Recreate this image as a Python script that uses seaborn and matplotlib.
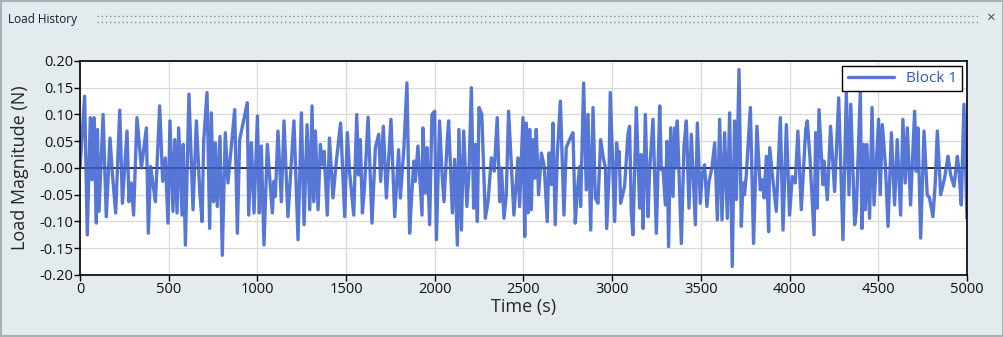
import numpy as np
import pandas as pd
import seaborn as sns
import matplotlib.pyplot as plt
from matplotlib.lines import Line2D
from matplotlib.patches import Rectangle

# load history (time in s, load in N)
time_s = [0, 26, 41, 58, 68, 79, 92, 98, 107, 130, 148, 169, 182, 201, 224, 239, 265, 276, 289, 302,
          321, 346, 374, 385, 398, 425, 449, 466, 481, 496, 507, 524, 534, 547, 556, 575, 582, 594, 614, 637,
          656, 675, 688, 697, 716, 731, 740, 753, 763, 774, 789, 802, 819, 834, 872, 887, 900, 943, 951, 966,
          981, 1000, 1011, 1022, 1037, 1056, 1084, 1093, 1101, 1116, 1135, 1150, 1172, 1206, 1229, 1248, 1263, 1280, 1295, 1308,
          1317, 1327, 1342, 1355, 1365, 1376, 1394, 1406, 1426, 1445, 1469, 1492, 1507, 1520, 1543, 1560, 1570, 1580, 1592, 1603,
          1624, 1646, 1665, 1684, 1695, 1710, 1727, 1740, 1753, 1774, 1796, 1806, 1826, 1843, 1858, 1871, 1882, 1890, 1905, 1928,
          1933, 1947, 1956, 1971, 1984, 1999, 2009, 2027, 2041, 2052, 2071, 2078, 2099, 2112, 2127, 2136, 2150, 2163, 2181, 2193,
          2206, 2219, 2229, 2240, 2249, 2265, 2285, 2300, 2319, 2335, 2352, 2366, 2376, 2390, 2403, 2416, 2446, 2469, 2478, 2497,
          2507, 2516, 2525, 2535, 2544, 2554, 2563, 2572, 2585, 2601, 2617, 2634, 2644, 2657, 2666, 2679, 2691, 2708, 2728, 2741,
          2760, 2779, 2792, 2803, 2817, 2822, 2839, 2854, 2864, 2879, 2892, 2905, 2920, 2935, 2950, 2962, 2969, 2982, 2989, 3014,
          3025, 3033, 3039, 3048, 3070, 3089, 3098, 3108, 3117, 3136, 3155, 3164, 3174, 3187, 3202, 3211, 3230, 3249, 3268, 3277,
          3286, 3300, 3309, 3318, 3330, 3343, 3352, 3358, 3367, 3390, 3405, 3418, 3433, 3446, 3469, 3480, 3497, 3507, 3521, 3534,
          3546, 3562, 3578, 3593, 3606, 3619, 3634, 3649, 3662, 3677, 3690, 3700, 3715, 3728, 3737, 3746, 3756, 3779, 3797, 3816,
          3835, 3846, 3856, 3869, 3882, 3888, 3906, 3925, 3948, 3963, 3982, 4000, 4015, 4032, 4047, 4066, 4091, 4100, 4115, 4138,
          4147, 4156, 4166, 4188, 4194, 4213, 4231, 4254, 4277, 4301, 4320, 4335, 4345, 4367, 4376, 4399, 4408, 4418, 4427, 4436,
          4451, 4465, 4476, 4502, 4511, 4523, 4540, 4555, 4574, 4592, 4607, 4626, 4639, 4652, 4664, 4682, 4705, 4714, 4724, 4739,
          4758, 4776, 4789, 4808, 4821, 4833, 4852, 4874, 4893, 4908, 4927, 4946, 4955, 4968, 4983, 5000]
load_n = [0.0, 0.134, -0.125, 0.094, -0.022, 0.094, -0.103, 0.072, -0.081, 0.100, -0.091, 0.056, -0.009, -0.084, 0.108, -0.066, 0.069, -0.063, -0.028, -0.088,
          0.094, 0.0, 0.075, -0.122, 0.003, -0.063, 0.116, -0.025, 0.019, -0.103, 0.088, -0.081, 0.053, -0.084, 0.075, -0.088, 0.044, -0.144, 0.138, -0.078,
          0.088, -0.044, -0.100, 0.050, 0.141, -0.113, 0.103, -0.063, 0.047, -0.072, 0.059, -0.163, 0.066, -0.028, 0.109, -0.122, 0.053, 0.122, -0.088, 0.047,
          -0.084, 0.097, -0.084, 0.041, -0.144, 0.044, -0.084, -0.025, -0.053, 0.069, -0.063, 0.088, -0.091, 0.088, -0.134, 0.103, -0.106, 0.081, -0.078, 0.116,
          -0.063, 0.069, -0.078, 0.044, 0.006, 0.031, -0.088, 0.056, -0.056, 0.013, 0.084, -0.091, 0.066, -0.009, -0.088, 0.100, -0.013, 0.053, -0.084, -0.040,
          0.095, -0.103, 0.038, 0.063, -0.025, 0.078, -0.056, 0.016, 0.091, -0.091, 0.034, -0.056, 0.038, 0.159, -0.122, -0.044, 0.013, -0.025, 0.041, -0.088,
          0.075, -0.047, 0.038, -0.106, 0.100, 0.106, -0.134, 0.088, -0.013, -0.063, 0.056, 0.088, -0.084, 0.016, -0.144, 0.072, -0.116, 0.069, -0.072, -0.006,
          0.150, -0.075, 0.044, -0.100, 0.113, 0.100, -0.094, -0.063, 0.019, -0.006, 0.094, -0.063, 0.000, -0.094, -0.050, 0.106, -0.088, 0.019, -0.072, 0.094,
          -0.128, 0.084, -0.084, 0.072, -0.078, 0.053, -0.019, 0.072, -0.050, 0.028, 0.003, -0.100, 0.028, -0.031, 0.084, -0.106, 0.028, 0.125, -0.088, 0.038,
          0.053, 0.066, -0.103, -0.044, 0.003, -0.072, 0.159, -0.041, 0.100, -0.116, 0.113, -0.056, -0.066, 0.053, 0.019, 0.000, -0.113, -0.016, 0.141, -0.100,
          0.047, 0.006, 0.031, -0.066, -0.034, 0.063, 0.078, -0.084, -0.125, 0.113, -0.075, 0.025, -0.113, 0.100, -0.091, -0.006, 0.091, -0.122, 0.116, -0.003,
          0.000, -0.069, 0.050, -0.147, 0.075, -0.053, 0.075, 0.000, 0.088, -0.141, 0.041, 0.088, -0.075, 0.063, -0.106, 0.084, -0.066, -0.013, 0.006, -0.072,
          -0.025, 0.000, 0.047, -0.097, 0.091, -0.097, 0.066, -0.094, 0.103, -0.184, 0.088, -0.059, 0.184, -0.109, -0.028, -0.050, -0.013, 0.113, -0.141, 0.078,
          -0.041, -0.022, -0.056, 0.022, -0.119, 0.038, -0.022, -0.081, 0.094, -0.116, 0.081, -0.088, -0.016, -0.028, 0.069, -0.078, 0.072, 0.088, 0.019, -0.125,
          0.066, -0.075, 0.109, -0.031, 0.013, -0.059, 0.078, -0.044, 0.131, -0.134, 0.141, -0.050, 0.119, -0.106, -0.081, 0.144, -0.113, 0.044, -0.078, 0.044,
          -0.094, 0.113, -0.069, 0.091, -0.050, 0.081, 0.006, -0.109, 0.066, -0.069, 0.053, -0.088, 0.091, -0.028, 0.075, -0.069, 0.106, -0.006, 0.075, -0.131,
          0.069, -0.050, -0.056, -0.091, -0.031, 0.069, -0.050, -0.019, 0.022, -0.013, -0.034, 0.022, -0.006, -0.069, 0.119, -0.094]

x_ticks = np.arange(0, 5001, 500)
y_ticks = np.arange(-0.20, 0.201, 0.05)

df = pd.DataFrame({'Time (s)': time_s, 'Load Magnitude (N)': load_n})

sns.set_theme(style='whitegrid')
plt.rcParams['font.family'] = ['Open Sans', 'DejaVu Sans']

bg = '#e3ebef'
line_col = '#3a5fd0'

fig = plt.figure(figsize=(10.04, 3.37), dpi=100)
fig.patch.set_facecolor(bg)
ax = fig.add_axes([0.0797, 0.184, 0.8834, 0.635])
ax.set_facecolor('white')

sns.lineplot(data=df, x='Time (s)', y='Load Magnitude (N)', ax=ax, color=line_col,
             linewidth=2.4, alpha=0.85, label='Block 1', estimator=None, sort=False)
ax.axhline(0, color='black', lw=1.1, zorder=1)

ax.set_xlim(0, 5000)
ax.set_ylim(-0.20, 0.20)
ax.set_xticks(x_ticks)
ax.set_yticks(y_ticks)
ax.set_yticklabels([f'{v:.2f}' for v in y_ticks])
ax.grid(True, color='#d9d9d9', lw=0.9)
for sp in ax.spines.values():
    sp.set_color('black')
    sp.set_linewidth(1.2)
ax.tick_params(axis='both', which='major', labelsize=10.5, length=4, width=1,
               color='black', labelcolor='#111111', pad=1, direction='out')
ax.tick_params(bottom=True, left=True)
ax.set_xlabel('Time (s)', fontsize=13, labelpad=1)
ax.set_ylabel('Load Magnitude (N)', fontsize=13, labelpad=7)

leg = ax.legend(loc='upper right', fontsize=11, frameon=True, fancybox=False,
                framealpha=1, edgecolor='black', handlelength=3.0,
                borderaxespad=0.3, borderpad=0.35)
leg.get_frame().set_linewidth(1.0)
for t in leg.get_texts():
    t.set_color('#2f55cc')

# panel header
fig.text(8 / 1004, 1 - 19 / 337, 'Load History', fontsize=8.5, color='#1a1a2e',
         va='center', ha='left')
for yy in (16, 22):
    fig.add_artist(Line2D([97 / 1004, 978 / 1004], [1 - yy / 337] * 2,
                          transform=fig.transFigure, color='#8a8f94',
                          lw=1.0, linestyle=(0, (1, 2))))
fig.text(990 / 1004, 1 - 18 / 337, '×', fontsize=11, color='#444444',
         va='center', ha='center')
fig.add_artist(Rectangle((0.001, 0.002), 0.998, 0.996, transform=fig.transFigure,
                         fill=False, edgecolor='#a8b0b8', lw=1.5))

fig.savefig('out.png', dpi=100, facecolor=bg)
